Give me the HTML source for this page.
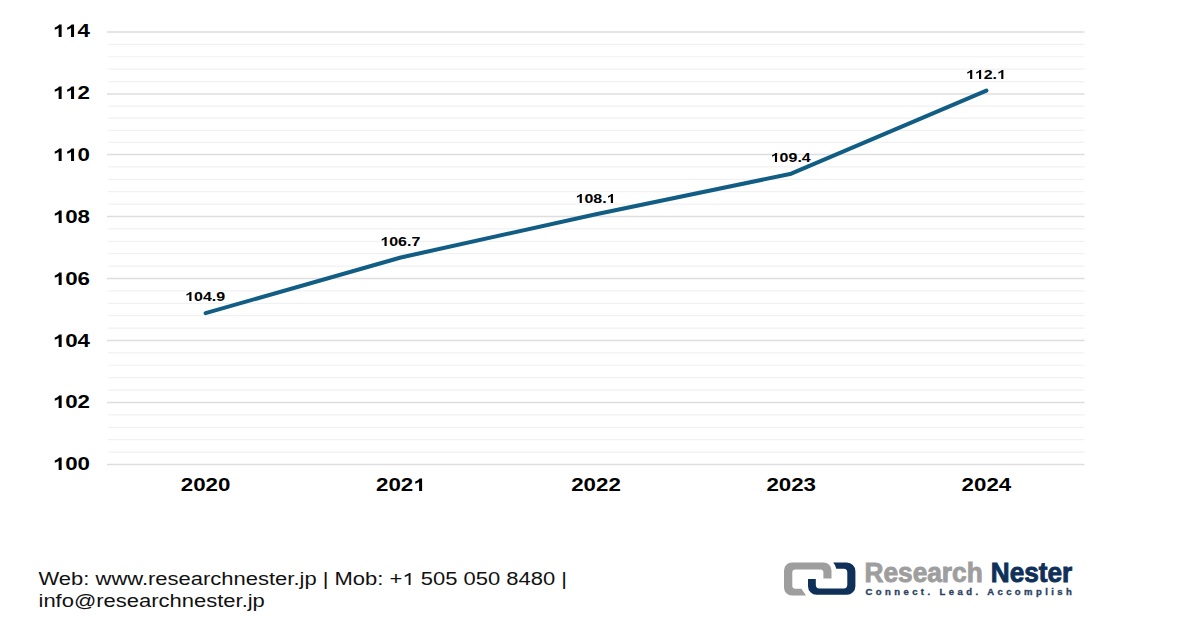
<!DOCTYPE html>
<html><head><meta charset="utf-8"><style>
html,body{margin:0;padding:0;background:#fff;}
body{width:1200px;height:628px;overflow:hidden;position:relative;}
svg{position:absolute;left:0;top:0;}
.ax{font-family:"Liberation Sans",sans-serif;font-weight:bold;font-size:18px;fill:#000;}
.dl{font-family:"Liberation Sans",sans-serif;font-weight:bold;font-size:13.1px;fill:#000;}
.one{fill-opacity:0;}
.ft{font-family:"Liberation Sans",sans-serif;font-size:17.5px;fill:#111;}
</style></head><body>
<svg width="1200" height="628" viewBox="0 0 1200 628">
<line x1="107" y1="31.93" x2="1084.5" y2="31.93" stroke="#dedede" stroke-width="1.5"/>
<line x1="108" y1="44.33" x2="1084.5" y2="44.33" stroke="#f1f1f1" stroke-width="1.2"/>
<line x1="108" y1="56.73" x2="1084.5" y2="56.73" stroke="#f1f1f1" stroke-width="1.2"/>
<line x1="108" y1="69.13" x2="1084.5" y2="69.13" stroke="#f1f1f1" stroke-width="1.2"/>
<line x1="108" y1="81.53" x2="1084.5" y2="81.53" stroke="#f1f1f1" stroke-width="1.2"/>
<line x1="107" y1="93.93" x2="1084.5" y2="93.93" stroke="#dedede" stroke-width="1.5"/>
<line x1="108" y1="106.06" x2="1084.5" y2="106.06" stroke="#f1f1f1" stroke-width="1.2"/>
<line x1="108" y1="118.19" x2="1084.5" y2="118.19" stroke="#f1f1f1" stroke-width="1.2"/>
<line x1="108" y1="130.31" x2="1084.5" y2="130.31" stroke="#f1f1f1" stroke-width="1.2"/>
<line x1="108" y1="142.44" x2="1084.5" y2="142.44" stroke="#f1f1f1" stroke-width="1.2"/>
<line x1="107" y1="154.57" x2="1084.5" y2="154.57" stroke="#dedede" stroke-width="1.5"/>
<line x1="108" y1="166.95" x2="1084.5" y2="166.95" stroke="#f1f1f1" stroke-width="1.2"/>
<line x1="108" y1="179.33" x2="1084.5" y2="179.33" stroke="#f1f1f1" stroke-width="1.2"/>
<line x1="108" y1="191.72" x2="1084.5" y2="191.72" stroke="#f1f1f1" stroke-width="1.2"/>
<line x1="108" y1="204.10" x2="1084.5" y2="204.10" stroke="#f1f1f1" stroke-width="1.2"/>
<line x1="107" y1="216.48" x2="1084.5" y2="216.48" stroke="#dedede" stroke-width="1.5"/>
<line x1="108" y1="228.88" x2="1084.5" y2="228.88" stroke="#f1f1f1" stroke-width="1.2"/>
<line x1="108" y1="241.29" x2="1084.5" y2="241.29" stroke="#f1f1f1" stroke-width="1.2"/>
<line x1="108" y1="253.69" x2="1084.5" y2="253.69" stroke="#f1f1f1" stroke-width="1.2"/>
<line x1="108" y1="266.10" x2="1084.5" y2="266.10" stroke="#f1f1f1" stroke-width="1.2"/>
<line x1="107" y1="278.50" x2="1084.5" y2="278.50" stroke="#dedede" stroke-width="1.5"/>
<line x1="108" y1="290.89" x2="1084.5" y2="290.89" stroke="#f1f1f1" stroke-width="1.2"/>
<line x1="108" y1="303.28" x2="1084.5" y2="303.28" stroke="#f1f1f1" stroke-width="1.2"/>
<line x1="108" y1="315.67" x2="1084.5" y2="315.67" stroke="#f1f1f1" stroke-width="1.2"/>
<line x1="108" y1="328.06" x2="1084.5" y2="328.06" stroke="#f1f1f1" stroke-width="1.2"/>
<line x1="107" y1="340.45" x2="1084.5" y2="340.45" stroke="#dedede" stroke-width="1.5"/>
<line x1="108" y1="352.85" x2="1084.5" y2="352.85" stroke="#f1f1f1" stroke-width="1.2"/>
<line x1="108" y1="365.25" x2="1084.5" y2="365.25" stroke="#f1f1f1" stroke-width="1.2"/>
<line x1="108" y1="377.65" x2="1084.5" y2="377.65" stroke="#f1f1f1" stroke-width="1.2"/>
<line x1="108" y1="390.05" x2="1084.5" y2="390.05" stroke="#f1f1f1" stroke-width="1.2"/>
<line x1="107" y1="402.45" x2="1084.5" y2="402.45" stroke="#dedede" stroke-width="1.5"/>
<line x1="108" y1="414.87" x2="1084.5" y2="414.87" stroke="#f1f1f1" stroke-width="1.2"/>
<line x1="108" y1="427.29" x2="1084.5" y2="427.29" stroke="#f1f1f1" stroke-width="1.2"/>
<line x1="108" y1="439.72" x2="1084.5" y2="439.72" stroke="#f1f1f1" stroke-width="1.2"/>
<line x1="108" y1="452.14" x2="1084.5" y2="452.14" stroke="#f1f1f1" stroke-width="1.2"/>
<line x1="107" y1="464.56" x2="1084.5" y2="464.56" stroke="#dedede" stroke-width="1.5"/>
<polyline points="205.60,313.14 400.80,257.52 596.00,214.25 791.20,173.68 986.40,90.64" fill="none" stroke="#115d84" stroke-width="4.0" stroke-linecap="round" stroke-linejoin="round"/>
<text transform="translate(90.00,36.85) scale(1.24,1)" text-anchor="end" class="ax"><tspan class="one">1</tspan><tspan class="one">1</tspan>4</text>
<text transform="translate(90.00,98.79) scale(1.24,1)" text-anchor="end" class="ax"><tspan class="one">1</tspan><tspan class="one">1</tspan>2</text>
<text transform="translate(90.00,160.73) scale(1.24,1)" text-anchor="end" class="ax"><tspan class="one">1</tspan><tspan class="one">1</tspan>0</text>
<text transform="translate(90.00,222.67) scale(1.24,1)" text-anchor="end" class="ax"><tspan class="one">1</tspan>08</text>
<text transform="translate(90.00,284.61) scale(1.24,1)" text-anchor="end" class="ax"><tspan class="one">1</tspan>06</text>
<text transform="translate(90.00,346.55) scale(1.24,1)" text-anchor="end" class="ax"><tspan class="one">1</tspan>04</text>
<text transform="translate(90.00,408.49) scale(1.24,1)" text-anchor="end" class="ax"><tspan class="one">1</tspan>02</text>
<text transform="translate(90.00,470.43) scale(1.24,1)" text-anchor="end" class="ax"><tspan class="one">1</tspan>00</text>
<text transform="translate(205.60,491.30) scale(1.24,1)" text-anchor="middle" class="ax" style="font-size:18px">2020</text>
<text transform="translate(400.80,491.30) scale(1.24,1)" text-anchor="middle" class="ax" style="font-size:18px">202<tspan class="one">1</tspan></text>
<text transform="translate(596.00,491.30) scale(1.24,1)" text-anchor="middle" class="ax" style="font-size:18px">2022</text>
<text transform="translate(791.20,491.30) scale(1.24,1)" text-anchor="middle" class="ax" style="font-size:18px">2023</text>
<text transform="translate(986.40,491.30) scale(1.24,1)" text-anchor="middle" class="ax" style="font-size:18px">2024</text>
<text transform="translate(205.10,301.44) scale(1.22,1)" text-anchor="middle" class="dl"><tspan class="one">1</tspan>04.9</text>
<text transform="translate(400.30,245.82) scale(1.22,1)" text-anchor="middle" class="dl"><tspan class="one">1</tspan>06.7</text>
<text transform="translate(595.50,202.55) scale(1.22,1)" text-anchor="middle" class="dl"><tspan class="one">1</tspan>08.<tspan class="one">1</tspan></text>
<text transform="translate(790.70,161.98) scale(1.22,1)" text-anchor="middle" class="dl"><tspan class="one">1</tspan>09.4</text>
<text transform="translate(985.90,78.94) scale(1.22,1)" text-anchor="middle" class="dl"><tspan class="one">1</tspan><tspan class="one">1</tspan>2.<tspan class="one">1</tspan></text>
<text transform="translate(38.5,585.1) scale(1.257,1)" class="ft">Web: www.researchnester.jp | Mob: +<tspan class="one">1</tspan> 505 050 8480 |</text>
<text transform="translate(38.5,606.6) scale(1.257,1)" class="ft">info@researchnester.jp</text>
<path fill="#9e9e9e" d="M784,570.5 A8,8 0 0 1 792,562.5 L823.5,562.5 A8,8 0 0 1 831.5,570.5 L831.5,578.6 L823.4,578.6 L823.4,572.6 A3.2,3.2 0 0 0 820.2,569.4 L795.5,569.4 A3.2,3.2 0 0 0 792.3,572.6 L792.3,585.6 A3.2,3.2 0 0 0 795.5,588.8 L801.5,588.8 Q803.5,592 806,595.5 L792,595.5 A8,8 0 0 1 784,587.5 Z"/>
<path fill="#0f3058" d="M833.2,562.6 L846.8,562.6 A8.6,8.6 0 0 1 855.4,571.2 L855.4,586.2 A8.6,8.6 0 0 1 846.8,594.8 L816.6,594.8 A8.6,8.6 0 0 1 808,586.2 L808,578.9 L815.8,578.9 L815.8,584.8 A3.6,3.6 0 0 0 819.4,588.4 L843.7,588.4 A3.6,3.6 0 0 0 847.3,584.8 L847.3,572.4 A3.6,3.6 0 0 0 843.7,568.8 L836.3,568.8 Q835.5,565 833.2,562.6 Z"/>
<text transform="translate(864.5,581.7) scale(0.938,1)" style="font-family:'Liberation Sans',sans-serif;font-weight:bold;font-size:28px;fill:#9e9e9e;stroke:#9e9e9e;stroke-width:0.9">Research</text>
<text transform="translate(990.8,581.7) scale(0.935,1)" style="font-family:'Liberation Sans',sans-serif;font-weight:bold;font-size:28px;fill:#0f3058;stroke:#0f3058;stroke-width:0.9">Nester</text>
<text transform="translate(865.5,595.2)" style="font-family:'Liberation Sans',sans-serif;font-weight:bold;font-size:9.5px;letter-spacing:3.42px;fill:#2a4262;stroke:#2a4262;stroke-width:0.35">Connect. Lead. Accomplish</text>

<path transform="matrix(0.010898,0.000000,0.000000,-0.008789,52.743,37.000)" fill="#000" d="M816 0H541V1036Q390 895 185 828V1078Q293 1113 419 1211Q545 1310 592 1409H816Z"/>
<path transform="matrix(0.010898,0.000000,0.000000,-0.008789,65.162,37.000)" fill="#000" d="M816 0H541V1036Q390 895 185 828V1078Q293 1113 419 1211Q545 1310 592 1409H816Z"/>
<path transform="matrix(0.010898,0.000000,0.000000,-0.008789,52.743,99.000)" fill="#000" d="M816 0H541V1036Q390 895 185 828V1078Q293 1113 419 1211Q545 1310 592 1409H816Z"/>
<path transform="matrix(0.010898,0.000000,0.000000,-0.008789,65.162,99.000)" fill="#000" d="M816 0H541V1036Q390 895 185 828V1078Q293 1113 419 1211Q545 1310 592 1409H816Z"/>
<path transform="matrix(0.010898,0.000000,0.000000,-0.008789,52.743,161.000)" fill="#000" d="M816 0H541V1036Q390 895 185 828V1078Q293 1113 419 1211Q545 1310 592 1409H816Z"/>
<path transform="matrix(0.010898,0.000000,0.000000,-0.008789,65.162,161.000)" fill="#000" d="M816 0H541V1036Q390 895 185 828V1078Q293 1113 419 1211Q545 1310 592 1409H816Z"/>
<path transform="matrix(0.010898,0.000000,0.000000,-0.008789,52.761,223.000)" fill="#000" d="M816 0H541V1036Q390 895 185 828V1078Q293 1113 419 1211Q545 1310 592 1409H816Z"/>
<path transform="matrix(0.010898,0.000000,0.000000,-0.008789,52.761,285.000)" fill="#000" d="M816 0H541V1036Q390 895 185 828V1078Q293 1113 419 1211Q545 1310 592 1409H816Z"/>
<path transform="matrix(0.010898,0.000000,0.000000,-0.008789,52.761,347.000)" fill="#000" d="M816 0H541V1036Q390 895 185 828V1078Q293 1113 419 1211Q545 1310 592 1409H816Z"/>
<path transform="matrix(0.010898,0.000000,0.000000,-0.008789,52.761,408.000)" fill="#000" d="M816 0H541V1036Q390 895 185 828V1078Q293 1113 419 1211Q545 1310 592 1409H816Z"/>
<path transform="matrix(0.010898,0.000000,0.000000,-0.008789,52.761,470.000)" fill="#000" d="M816 0H541V1036Q390 895 185 828V1078Q293 1113 419 1211Q545 1310 592 1409H816Z"/>
<path transform="matrix(0.010898,0.000000,0.000000,-0.008789,413.202,491.000)" fill="#000" d="M816 0H541V1036Q390 895 185 828V1078Q293 1113 419 1211Q545 1310 592 1409H816Z"/>
<path transform="matrix(0.007804,0.000000,0.000000,-0.006396,185.096,301.000)" fill="#000" d="M816 0H541V1036Q390 895 185 828V1078Q293 1113 419 1211Q545 1310 592 1409H816Z"/>
<path transform="matrix(0.007804,0.000000,0.000000,-0.006396,380.296,246.000)" fill="#000" d="M816 0H541V1036Q390 895 185 828V1078Q293 1113 419 1211Q545 1310 592 1409H816Z"/>
<path transform="matrix(0.007804,0.000000,0.000000,-0.006396,575.488,203.000)" fill="#000" d="M816 0H541V1036Q390 895 185 828V1078Q293 1113 419 1211Q545 1310 592 1409H816Z"/>
<path transform="matrix(0.007804,0.000000,0.000000,-0.006396,606.608,203.000)" fill="#000" d="M816 0H541V1036Q390 895 185 828V1078Q293 1113 419 1211Q545 1310 592 1409H816Z"/>
<path transform="matrix(0.007804,0.000000,0.000000,-0.006396,770.697,162.000)" fill="#000" d="M816 0H541V1036Q390 895 185 828V1078Q293 1113 419 1211Q545 1310 592 1409H816Z"/>
<path transform="matrix(0.007804,0.000000,0.000000,-0.006396,965.879,79.000)" fill="#000" d="M816 0H541V1036Q390 895 185 828V1078Q293 1113 419 1211Q545 1310 592 1409H816Z"/>
<path transform="matrix(0.007804,0.000000,0.000000,-0.006396,974.783,79.000)" fill="#000" d="M816 0H541V1036Q390 895 185 828V1078Q293 1113 419 1211Q545 1310 592 1409H816Z"/>
<path transform="matrix(0.007804,0.000000,0.000000,-0.006396,997.017,79.000)" fill="#000" d="M816 0H541V1036Q390 895 185 828V1078Q293 1113 419 1211Q545 1310 592 1409H816Z"/>
<path transform="matrix(0.010741,0.000000,0.000000,-0.008545,402.350,585.000)" fill="#111" d="M763 0H583V1147Q518 1085 412 1023Q307 961 223 930V1104Q374 1175 487 1276Q600 1377 647 1409H763Z"/>
</svg>
</body></html>
